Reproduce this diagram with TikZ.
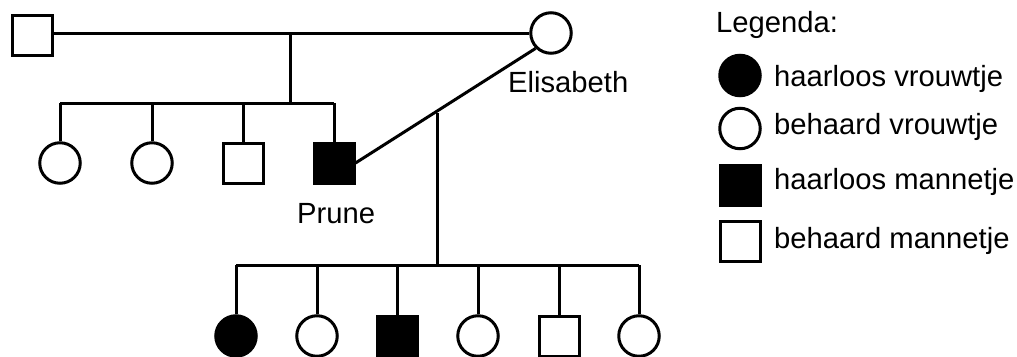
\documentclass[tikz,border=0pt]{standalone}
\usepackage{fontspec}
\setmainfont{Liberation Sans}
\begin{document}
\begin{tikzpicture}[x=1pt,y=-1pt,
  lw/.style={line width=3pt},
  male/.style={rectangle,draw,lw,minimum size=40pt,inner sep=0pt,fill=white},
  female/.style={circle,draw,lw,minimum size=40.5pt,inner sep=0pt,fill=white},
  affected/.style={fill=black},
  lbl/.style={anchor=base west,inner sep=0pt,font=\fontsize{29.2}{34}\selectfont}]
\useasboundingbox (0,0) rectangle (1017,356);
% generation I
\node[male] (f) at (32,35) {};
\node[female] (m) at (551,33) {};
\node[lbl] (le) at (508,92) {Elisabeth};
% generation II
\node[female] (c1) at (60,163) {};
\node[female] (c2) at (152,163) {};
\node[male] (c3) at (243,163) {};
\node[male,affected] (p) at (334,163) {};
\node[lbl] (lp) at (297,223) {Prune};
% generation III
\node[female,affected] (d1) at (236,336) {};
\node[female] (d2) at (317,336) {};
\node[male,affected] (d3) at (397,336) {};
\node[female] (d4) at (478,336) {};
\node[male] (d5) at (559,336) {};
\node[female] (d6) at (639,336) {};
% marriage I
\coordinate (mid1) at (290,33);
\coordinate (sib1) at (290,103);
\draw[lw] (m.west -| f.east) -- (m.west);
\draw[lw] (mid1) -- (sib1);
\draw[lw] (c1.north |- sib1) -- (p.north |- sib1);
\foreach \c in {c1,c2,c3,p} \draw[lw] (\c.north |- sib1) -- (\c.north);
% marriage II
\draw[lw] (p.east) -- (m.south west);
\coordinate (mid2) at (437,113);
\coordinate (sib2) at (437,265);
\draw[lw] (mid2) -- (sib2);
\draw[lw] (d1.north |- sib2) -- (d6.north |- sib2);
\foreach \c in {d1,d2,d3,d4,d5,d6} \draw[lw] (\c.north |- sib2) -- (\c.north);
% legend
\node[lbl] (lt) at (716,32) {Legenda:};
\node[female,affected] (k1) at (740,75.5) {};
\node[female] (k2) at (740,128.5) {};
\node[male,affected] (k3) at (740,185) {};
\node[male] (k4) at (740,241.5) {};
\node[lbl] (t1) at (774,86) {haarloos vrouwtje};
\node[lbl] (t2) at (774,134) {behaard vrouwtje};
\node[lbl] (t3) at (774,189) {haarloos mannetje};
\node[lbl] (t4) at (774,248) {behaard mannetje};
\end{tikzpicture}
\end{document}
